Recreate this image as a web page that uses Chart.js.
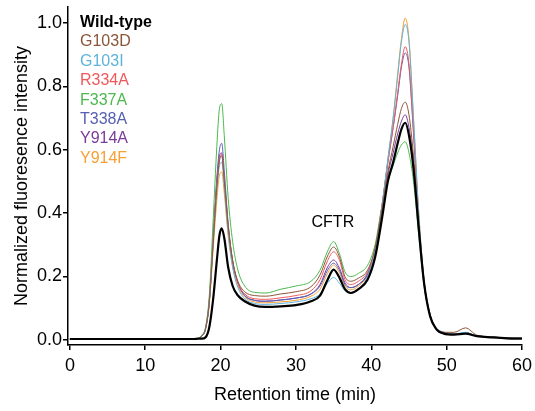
<!DOCTYPE html>
<html>
<head>
<meta charset="utf-8">
<script src="https://cdn.jsdelivr.net/npm/chart.js@4.4.1/dist/chart.umd.min.js"></script>
<style>
body { margin: 0; background: #fff; }
#wrap { width: 535px; height: 411px; }
</style>
</head>
<body>
<div id="wrap"><canvas id="chart" width="535" height="411"></canvas></div>
<script>
// retention time (min) shared by every trace
const retentionTimes = [0, 5, 10, 15, 16.5, 17, 17.5, 18, 18.5, 19, 19.5, 19.85, 20.15, 20.5, 21, 21.6, 22.3, 23.2, 24.5, 26, 28, 30, 32, 33.2, 34.2, 35, 35.8, 36.5, 37.3, 38.3, 39.5, 40.5, 41.4, 42.2, 42.9, 43.5, 44, 44.5, 45, 45.6, 46.3, 47, 47.8, 48.6, 49.6, 51, 52.5, 54, 56, 58, 60]

const wildType = [0.003, 0.003, 0.003, 0.003, 0.003, 0.004, 0.004, 0.008, 0.04, 0.126, 0.25, 0.33, 0.352, 0.32, 0.23, 0.17, 0.14, 0.122, 0.108, 0.104, 0.106, 0.11, 0.122, 0.14, 0.19, 0.222, 0.195, 0.16, 0.148, 0.16, 0.19, 0.26, 0.38, 0.5, 0.56, 0.62, 0.665, 0.685, 0.645, 0.54, 0.35, 0.18, 0.075, 0.035, 0.02, 0.017, 0.02, 0.012, 0.008, 0.005, 0.004]
const g103d = [0.003, 0.003, 0.003, 0.003, 0.003, 0.004, 0.012, 0.035, 0.12, 0.3, 0.48, 0.565, 0.58, 0.5, 0.36, 0.25, 0.185, 0.152, 0.14, 0.138, 0.145, 0.152, 0.168, 0.205, 0.265, 0.293, 0.26, 0.2, 0.185, 0.195, 0.22, 0.29, 0.41, 0.53, 0.61, 0.68, 0.73, 0.75, 0.71, 0.58, 0.37, 0.18, 0.078, 0.036, 0.024, 0.024, 0.038, 0.015, 0.009, 0.006, 0.005]
const g103i = [0.003, 0.003, 0.003, 0.003, 0.003, 0.004, 0.012, 0.035, 0.12, 0.3, 0.47, 0.55, 0.56, 0.48, 0.34, 0.23, 0.165, 0.13, 0.115, 0.112, 0.115, 0.12, 0.13, 0.145, 0.18, 0.197, 0.178, 0.155, 0.148, 0.16, 0.2, 0.28, 0.42, 0.57, 0.7, 0.83, 0.94, 0.995, 0.94, 0.7, 0.4, 0.19, 0.08, 0.038, 0.025, 0.019, 0.024, 0.013, 0.009, 0.006, 0.005]
const r334a = [0.003, 0.003, 0.003, 0.003, 0.003, 0.004, 0.012, 0.035, 0.12, 0.31, 0.49, 0.57, 0.585, 0.5, 0.36, 0.25, 0.18, 0.145, 0.13, 0.128, 0.133, 0.14, 0.155, 0.19, 0.25, 0.278, 0.25, 0.19, 0.175, 0.185, 0.215, 0.285, 0.42, 0.56, 0.67, 0.78, 0.87, 0.925, 0.87, 0.66, 0.38, 0.185, 0.08, 0.037, 0.024, 0.018, 0.022, 0.013, 0.009, 0.006, 0.005]
const f337a = [0.003, 0.003, 0.003, 0.003, 0.003, 0.005, 0.015, 0.04, 0.14, 0.37, 0.61, 0.73, 0.745, 0.64, 0.45, 0.31, 0.22, 0.17, 0.15, 0.148, 0.16, 0.17, 0.185, 0.22, 0.28, 0.31, 0.27, 0.215, 0.2, 0.21, 0.235, 0.3, 0.42, 0.5, 0.55, 0.59, 0.615, 0.625, 0.59, 0.5, 0.33, 0.17, 0.075, 0.035, 0.022, 0.018, 0.022, 0.013, 0.009, 0.006, 0.005]
const t338a = [0.003, 0.003, 0.003, 0.003, 0.003, 0.004, 0.012, 0.035, 0.125, 0.32, 0.51, 0.6, 0.62, 0.53, 0.37, 0.25, 0.18, 0.14, 0.125, 0.122, 0.126, 0.132, 0.145, 0.17, 0.22, 0.242, 0.218, 0.175, 0.165, 0.175, 0.21, 0.285, 0.42, 0.56, 0.67, 0.77, 0.86, 0.905, 0.86, 0.65, 0.38, 0.185, 0.08, 0.037, 0.024, 0.018, 0.022, 0.013, 0.009, 0.006, 0.005]
const y914a = [0.003, 0.003, 0.003, 0.003, 0.003, 0.004, 0.012, 0.035, 0.12, 0.31, 0.5, 0.58, 0.59, 0.5, 0.36, 0.245, 0.18, 0.14, 0.125, 0.122, 0.126, 0.132, 0.145, 0.175, 0.23, 0.252, 0.225, 0.18, 0.165, 0.175, 0.205, 0.275, 0.4, 0.52, 0.59, 0.65, 0.69, 0.71, 0.67, 0.56, 0.36, 0.18, 0.077, 0.036, 0.022, 0.018, 0.022, 0.013, 0.009, 0.006, 0.005]
const y914f = [0.003, 0.003, 0.003, 0.003, 0.003, 0.004, 0.012, 0.035, 0.11, 0.28, 0.44, 0.52, 0.53, 0.46, 0.33, 0.23, 0.17, 0.135, 0.12, 0.117, 0.12, 0.125, 0.138, 0.16, 0.21, 0.236, 0.21, 0.17, 0.158, 0.17, 0.205, 0.28, 0.42, 0.57, 0.7, 0.84, 0.95, 1.015, 0.95, 0.7, 0.4, 0.19, 0.08, 0.038, 0.024, 0.018, 0.022, 0.013, 0.009, 0.006, 0.005]

const seriesNames = ['Wild-type', 'G103D', 'G103I', 'R334A', 'F337A', 'T338A', 'Y914A', 'Y914F']
const seriesValues = [wildType, g103d, g103i, r334a, f337a, t338a, y914a, y914f]
const seriesColors = ['#000000', '#8c5538', '#5cb4de', '#f0585c', '#4cb84e', '#5660b2', '#7a3a98', '#f7a034']

const xTicks = [0, 10, 20, 30, 40, 50, 60]
const yTicks = [0, 0.2, 0.4, 0.6, 0.8, 1.0]

const peakLabel = 'CFTR'
const peakLabelAt = { x: 34.9, y: 0.356 }

const FONT = "'Liberation Sans', Arial, sans-serif"

const datasets = seriesNames.map((name, i) => ({
    label: name,
    data: retentionTimes.map((t, j) => ({ x: t, y: seriesValues[i][j] })),
    borderColor: seriesColors[i],
    borderWidth: i === 0 ? 2.2 : 1,
    pointRadius: 0,
    fill: false,
    cubicInterpolationMode: 'monotone'
}))

const textPlugin = {
    id: 'textPlugin',
    afterDatasetsDraw(chart) {
        const ctx = chart.ctx
        ctx.save()
        ctx.textBaseline = 'alphabetic'
        ctx.textAlign = 'left'
        seriesNames.forEach((name, i) => {
            ctx.font = (i === 0 ? 'bold ' : '') + '16px ' + FONT
            ctx.fillStyle = seriesColors[i]
            ctx.fillText(name, 80, 27 + i * 19.4)
        })
        ctx.font = '16px ' + FONT
        ctx.fillStyle = '#000'
        ctx.textAlign = 'center'
        const px = chart.scales.x.getPixelForValue(peakLabelAt.x)
        const py = chart.scales.y.getPixelForValue(peakLabelAt.y)
        ctx.fillText(peakLabel, px, py)
        ctx.restore()
    }
}

new Chart(document.getElementById('chart').getContext('2d'), {
    type: 'line',
    data: { datasets },
    options: {
        responsive: false,
        animation: false,
        layout: { padding: { top: 7, right: 13, left: 0, bottom: 0 } },
        plugins: { legend: { display: false }, tooltip: { enabled: false } },
        scales: {
            x: {
                type: 'linear',
                min: -0.25,
                max: 60,
                afterFit: scale => {
                    scale.height = 66
                    scale.paddingLeft = 0
                    scale.paddingRight = 0
                },
                afterBuildTicks: scale => { scale.ticks = xTicks.map(v => ({ value: v })) },
                ticks: { color: '#000', font: { family: FONT, size: 18 }, padding: 5, maxRotation: 0, includeBounds: false },
                grid: { drawOnChartArea: false, drawTicks: true, tickLength: 5, color: '#000', lineWidth: 1.5 },
                border: { color: '#000', width: 1.5 },
                title: { display: true, text: 'Retention time (min)', color: '#000', font: { family: FONT, size: 18 }, padding: { top: 0, bottom: 5 } }
            },
            y: {
                min: -0.016,
                max: 1.05,
                afterFit: scale => {
                    scale.width = 68
                    scale.paddingTop = 0
                    scale.paddingBottom = 0
                },
                afterBuildTicks: scale => { scale.ticks = yTicks.map(v => ({ value: v })) },
                ticks: { color: '#000', font: { family: FONT, size: 18 }, padding: 1, callback: v => v.toFixed(1), includeBounds: false },
                grid: { drawOnChartArea: false, drawTicks: true, tickLength: 5, color: '#000', lineWidth: 1.5 },
                border: { color: '#000', width: 1.5 },
                title: { display: true, text: 'Normalized fluoresence intensity', color: '#000', font: { family: FONT, size: 18 }, padding: { top: 11, bottom: 0 } }
            }
        }
    },
    plugins: [textPlugin]
})
</script>
</body>
</html>
